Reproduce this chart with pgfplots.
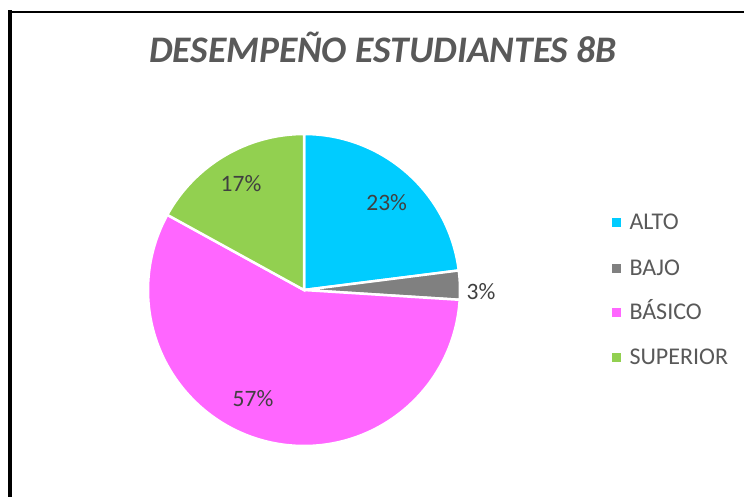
\documentclass[border=0pt]{standalone}
\usepackage{pgfplots}
\usepackage{pgfplotstable}
\pgfplotsset{compat=1.18}
\usepackage{fontspec}
\setmainfont{Carlito}
\definecolor{cAlto}{HTML}{00CCFF}
\definecolor{cBajo}{HTML}{808080}
\definecolor{cBasico}{HTML}{FF66FF}
\definecolor{cSuperior}{HTML}{92D050}
\definecolor{titlegray}{HTML}{595959}
\definecolor{labelgray}{HTML}{404040}
\definecolor{leggray}{HTML}{595959}

\pgfplotstableread{
label value
ALTO 23
BAJO 3
BASICO 57
SUPERIOR 17
}\piedata

\begin{document}
\begin{tikzpicture}
\useasboundingbox (0,0) rectangle (744bp,497bp);
\pgfplotstablegetelem{0}{value}\of\piedata \let\vA\pgfplotsretval
\pgfplotstablegetelem{1}{value}\of\piedata \let\vB\pgfplotsretval
\pgfplotstablegetelem{2}{value}\of\piedata \let\vC\pgfplotsretval
\pgfplotstablegetelem{3}{value}\of\piedata \let\vD\pgfplotsretval
\pgfmathsetmacro\tot{\vA+\vB+\vC+\vD}
\pgfmathsetmacro\unit{360/\tot}
\pgfmathsetmacro\aA{90-\unit*\vA}
\pgfmathsetmacro\aB{\aA-\unit*\vB}
\pgfmathsetmacro\aC{\aB-\unit*\vC}
\pgfmathsetmacro\aD{\aC-\unit*\vD}
\begin{axis}[
  at={(0,0)}, anchor=south west,
  scale only axis, width=744bp, height=497bp,
  xmin=0, xmax=744, ymin=0, ymax=497, y dir=reverse,
  hide axis, clip=false,
]
% border
\draw[black, line width=4bp] (axis cs:10.3,10.5) -- (axis cs:10.3,520);
\draw[black, line width=2.5bp] (axis cs:8.3,12) -- (axis cs:760,12);
% title
\node[anchor=base, text=titlegray, font=\fontsize{37.5bp}{40bp}\selectfont\bfseries\itshape]
  at (axis cs:383,63) {DESEMPEÑO ESTUDIANTES 8B};
% pie wedges
\fill[cAlto, draw=white, line width=2.5bp] (axis cs:304,290) -- ++(90:156bp) arc[start angle=90, end angle=\aA, radius=156bp] -- cycle;
\fill[cBajo, draw=white, line width=2.5bp] (axis cs:304,290) -- ++(\aA:156bp) arc[start angle=\aA, end angle=\aB, radius=156bp] -- cycle;
\fill[cBasico, draw=white, line width=2.5bp] (axis cs:304,290) -- ++(\aB:156bp) arc[start angle=\aB, end angle=\aC, radius=156bp] -- cycle;
\fill[cSuperior, draw=white, line width=2.5bp] (axis cs:304,290) -- ++(\aC:156bp) arc[start angle=\aC, end angle=\aD, radius=156bp] -- cycle;
% data labels
\begin{scope}[every node/.style={anchor=base, text=labelgray, font=\fontsize{23.5bp}{26bp}\selectfont}]
\node at (axis cs:386.7,210.7) {\vA\%};
\node at (axis cs:481,299) {\vB\%};
\node at (axis cs:253,406.7) {\vC\%};
\node at (axis cs:241,191) {\vD\%};
\end{scope}
% legend
\fill[cAlto] (axis cs:612,218) rectangle (axis cs:621,227);
\fill[cBajo] (axis cs:612,264) rectangle (axis cs:621,273);
\fill[cBasico] (axis cs:612,308) rectangle (axis cs:621,317);
\fill[cSuperior] (axis cs:612,352.5) rectangle (axis cs:621,361.5);
\begin{scope}[every node/.style={anchor=base west, inner sep=0pt, text=leggray, font=\fontsize{24bp}{26bp}\selectfont}]
\node at (axis cs:629.3,229.3) {ALTO};
\node at (axis cs:629.3,275.3) {BAJO};
\node at (axis cs:629.3,319.3) {BÁSICO};
\node at (axis cs:629.3,364) {SUPERIOR};
\end{scope}
\end{axis}
\end{tikzpicture}
\end{document}
